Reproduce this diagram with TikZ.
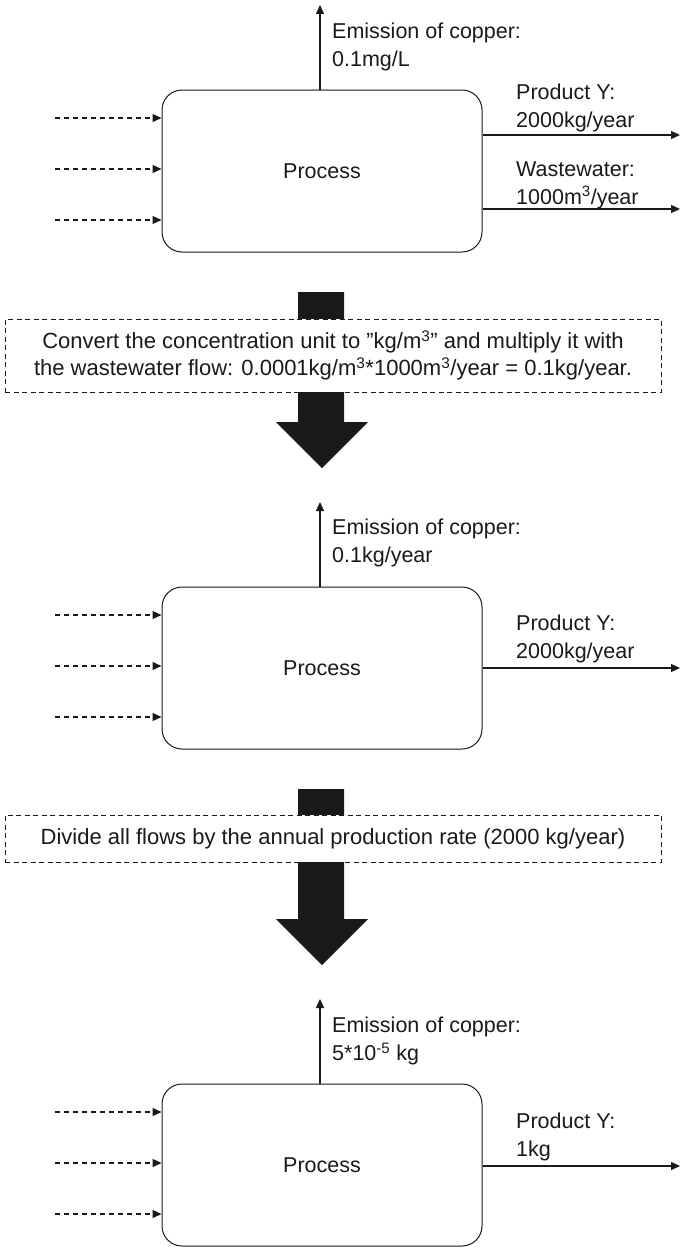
\documentclass[tikz,border=0pt]{standalone}
\usepackage{fontspec}
\setmainfont{Liberation Sans}
\usetikzlibrary{arrows.meta}
\definecolor{ink}{HTML}{1A1A1A}
\begin{document}
\begin{tikzpicture}[x=1pt,y=-1pt,
  every node/.style={font=\fontsize{21.5}{28}\selectfont, text=ink, inner sep=0pt},
  procbox/.style={draw=ink, line width=1pt, rounded corners=20pt,
    minimum width=320pt, minimum height=162pt},
  flow/.style={draw=ink, line width=1.2pt, -{Triangle[length=9pt,width=8pt]}},
  inflow/.style={flow, dash pattern=on 5pt off 4pt},
  flowtext/.style={anchor=west, align=left},
  notebox/.style={draw=ink, fill=white, line width=0.9pt,
    font=\fontsize{22}{27}\selectfont,
    dash pattern=on 5pt off 3.5pt, minimum width=656pt, align=center},
  bigarrow/.style={fill=ink}
]
\fill[white] (0,0) rectangle (680,1247);
\useasboundingbox (0,0) rectangle (680,1247);

% ---------- first process: concentration given ----------
\node[procbox] (p1) at (322,171) {Process};
\coordinate (e1) at (320,5);
\draw[flow] (p1.north -| e1) -- (e1);
\node[flowtext] (t1) at (332,47) {Emission of copper:\\0.1mg/L};
\foreach \k/\yy in {a/118,b/169,c/220}{
  \coordinate (i1\k) at (55,\yy);
  \draw[inflow] (i1\k) -- (i1\k -| p1.west);
}
\coordinate (o1a) at (680,135);
\draw[flow] (o1a -| p1.east) -- (o1a);
\node[flowtext] (y1) at (516,107.5) {Product Y:\\2000kg/year};
\coordinate (o1b) at (680,209);
\draw[flow] (o1b -| p1.east) -- (o1b);
\node[flowtext] (w1) at (516,185) {Wastewater:\\1000m\textsuperscript{3}/year};

% ---------- first conversion step ----------
\fill[bigarrow] (298,292) -- (344,292) -- (344,422) -- (368,422)
  -- (322,468) -- (276,422) -- (298,422) -- cycle;
\node[notebox, minimum height=73pt] (n1) at (333,355.5)
  {Convert the concentration unit to ”kg/m\textsuperscript{3}” and multiply it with\\
   the wastewater flow: 0.0001kg/m\textsuperscript{3}*1000m\textsuperscript{3}/year = 0.1kg/year.};

% ---------- second process: annual flows ----------
\begin{scope}[shift={(0,497)}]
\node[procbox] (p2) at (322,171) {Process};
\coordinate (e2) at (320,5);
\draw[flow] (p2.north -| e2) -- (e2);
\node[flowtext] (t2) at (332,46) {Emission of copper:\\0.1kg/year};
\foreach \k/\yy in {a/118,b/169,c/220}{
  \coordinate (i2\k) at (55,\yy);
  \draw[inflow] (i2\k) -- (i2\k -| p2.west);
}
\coordinate (o2a) at (680,171);
\draw[flow] (o2a -| p2.east) -- (o2a);
\node[flowtext] (y2) at (516,141.5) {Product Y:\\2000kg/year};
\end{scope}

% ---------- second conversion step ----------
\fill[bigarrow] (298,789) -- (344,789) -- (344,919) -- (368,919)
  -- (322,965) -- (276,919) -- (298,919) -- cycle;
\node[notebox, minimum height=47pt] (n2) at (333,838.5)
  {Divide all flows by the annual production rate (2000 kg/year)};

% ---------- third process: per functional unit ----------
\begin{scope}[shift={(0,994)}]
\node[procbox] (p3) at (322,171) {Process};
\coordinate (e3) at (320,5);
\draw[flow] (p3.north -| e3) -- (e3);
\node[flowtext] (t3) at (332,47) {Emission of copper:\\5*10\textsuperscript{-5} kg};
\foreach \k/\yy in {a/118,b/169,c/220}{
  \coordinate (i3\k) at (55,\yy);
  \draw[inflow] (i3\k) -- (i3\k -| p3.west);
}
\coordinate (o3a) at (680,172);
\draw[flow] (o3a -| p3.east) -- (o3a);
\node[flowtext] (y3) at (516,143) {Product Y:\\1kg};
\end{scope}
\end{tikzpicture}
\end{document}
